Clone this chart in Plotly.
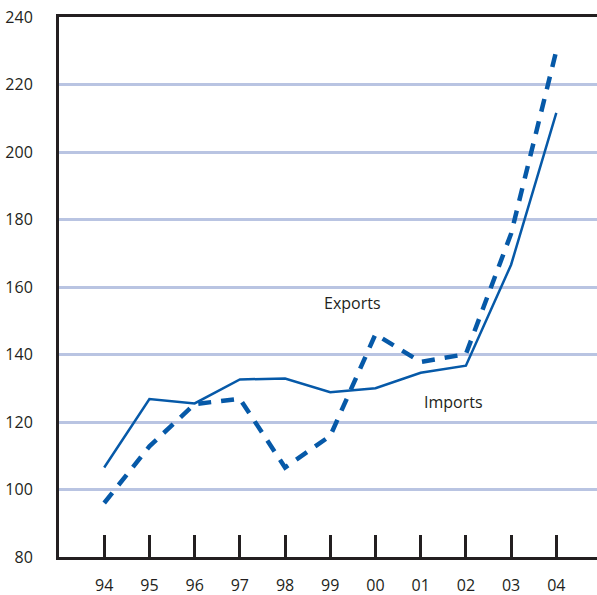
import plotly.graph_objects as go

years = ["94", "95", "96", "97", "98", "99", "00", "01", "02", "03", "04"]
imports = [106.5, 126.8, 125.5, 132.6, 132.9, 128.8, 130.0, 134.6, 136.7, 166.6, 211.6]
exports = [96.0, 112.8, 125.3, 126.9, 106.5, 115.9, 146.0, 137.8, 140.1, 175.8, 230.0]
y_ticks = [80, 100, 120, 140, 160, 180, 200, 220, 240]

xpos = list(range(len(years)))
blue = "#0659A8"
ink = "#231f20"
font = "Open Sans"

fig = go.Figure()
fig.add_trace(go.Scatter(x=xpos, y=exports, mode="lines",
                         line=dict(color=blue, width=4.5, dash="13px,10px"),
                         name="Exports", hoverinfo="skip"))
fig.add_trace(go.Scatter(x=xpos, y=imports, mode="lines",
                         line=dict(color=blue, width=2.5),
                         name="Imports", hoverinfo="skip"))

fig.add_annotation(x=5.49, y=155.3, text="Exports", showarrow=False,
                   font=dict(family=font, size=16, color=ink))
fig.add_annotation(x=7.72, y=125.9, text="Imports", showarrow=False,
                   font=dict(family=font, size=16, color=ink))

fig.update_layout(
    width=597, height=595,
    margin=dict(l=59, r=0, t=17, b=38),
    plot_bgcolor="white", paper_bgcolor="white",
    showlegend=False,
    font=dict(family=font, size=16, color=ink),
)
fig.update_xaxes(
    range=[-1, 10.9], tickmode="array", tickvals=xpos, ticktext=years,
    showgrid=False, zeroline=False,
    showline=True, linecolor=ink, linewidth=3, mirror=True,
    ticks="inside", ticklen=22, tickwidth=3, tickcolor=ink,
    ticklabelstandoff=12,
    tickfont=dict(family=font, size=16, color=ink),
)
fig.update_yaxes(
    range=[80, 240], tickmode="array", tickvals=y_ticks,
    showgrid=True, gridcolor="#b9c4e2", gridwidth=3,
    zeroline=False,
    showline=True, linecolor=ink, linewidth=3,
    ticks="", ticklabelstandoff=20,
    tickfont=dict(family=font, size=16, color=ink),
)

fig.write_html("out.html", config={"displayModeBar": False})

with open("out.html", "r", encoding="utf-8") as f:
    html = f.read()
html = html.replace("<head>", "<head><style>html,body{margin:0;padding:0;overflow:hidden;}</style>", 1)
with open("out.html", "w", encoding="utf-8") as f:
    f.write(html)
